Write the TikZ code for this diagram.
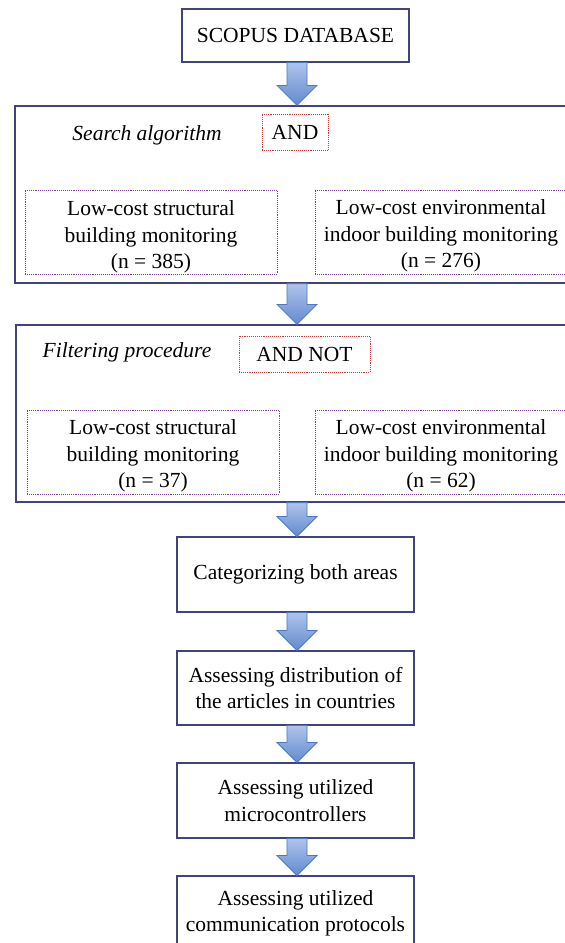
\documentclass[tikz,border=0pt]{standalone}
\usepackage{fontspec}
\setmainfont{Liberation Serif}
\usetikzlibrary{calc}
\definecolor{boxline}{HTML}{43437C}
\definecolor{reddot}{HTML}{C43A3A}
\definecolor{purpdot}{HTML}{7A3E9E}
\definecolor{arrtop}{HTML}{AEC4EB}
\definecolor{arrbot}{HTML}{6389CE}
\definecolor{arredge}{HTML}{4A78C2}
\tikzset{
  txt/.style={font=\fontsize{21.5}{26.5}\selectfont, align=center, inner sep=0pt},
  mainbox/.style={txt, draw=boxline, line width=1.1pt},
  bigbox/.style={draw=boxline, line width=1.2pt, inner sep=0pt},
  opbox/.style={txt, draw=reddot, line width=0.9pt, densely dotted},
  subbox/.style={draw=purpdot, line width=0.9pt, densely dotted, minimum width=252pt, minimum height=84pt, inner sep=0pt},
  flowarrow/.style={top color=arrtop, bottom color=arrbot, draw=arredge, line width=0.8pt, line join=miter},
}
\newcommand{\blockarrow}[2]{%
  \path[flowarrow] let \p1=(#1.south), \p2=(#2.north) in
    (287pt,\y1) -- (307pt,\y1) -- (307pt,\y2+20pt) -- (317pt,\y2+20pt) --
    (297pt,\y2) -- (277pt,\y2+20pt) -- (287pt,\y2+20pt) -- cycle;}
\begin{document}
\begin{tikzpicture}[x=1pt,y=-1pt]
\useasboundingbox (0,0) rectangle (565,943);
\clip (0,0) rectangle (565,943);
\fill[white] (0,0) rectangle (565,943);

% top box
\node[mainbox, minimum width=227pt, minimum height=53pt] (scopus) at (295.5,35.5) {SCOPUS DATABASE};

% search algorithm block
\node[bigbox, minimum width=564pt, minimum height=177pt] (search) at (297,194.5) {};
\node[txt, font=\fontsize{21.5}{26.5}\selectfont\itshape] (searchlbl) at (147,135) {Search algorithm};
\node[opbox, minimum width=66pt, minimum height=36pt] (and) at (295,132) {AND};
\node[subbox] (s1) at (151,232) {};
\node[txt] (s1t) at (151,237) {Low-cost structural\\building monitoring\\(n = 385)};
\node[subbox] (s2) at (441,232) {};
\node[txt] (s2t) at (441,236) {Low-cost environmental\\indoor building monitoring\\(n = 276)};

% filtering block
\node[bigbox, minimum width=563pt, minimum height=177pt] (filter) at (297.5,413.5) {};
\node[txt, font=\fontsize{21.5}{26.5}\selectfont\itshape] (filterlbl) at (127,352) {Filtering procedure};
\node[opbox, minimum width=131pt, minimum height=36pt] (andnot) at (304.5,354) {AND NOT};
\node[subbox] (f1) at (153,452) {};
\node[txt] (f1t) at (153,456) {Low-cost structural\\building monitoring\\(n = 37)};
\node[subbox] (f2) at (441,452) {};
\node[txt] (f2t) at (441,456) {Low-cost environmental\\indoor building monitoring\\(n = 62)};

% lower chain
\node[mainbox, minimum width=237pt, minimum height=75pt] (cat) at (295.5,574.5) {Categorizing both areas};
\node[mainbox, minimum width=237pt, minimum height=74pt] (dist) at (295.5,688) {Assessing distribution of\\the articles in countries};
\node[mainbox, minimum width=237pt, minimum height=75pt] (micro) at (295.5,800.5) {Assessing utilized\\microcontrollers};
\node[mainbox, minimum width=237pt, minimum height=75pt] (comm) at (295.5,913.5) {Assessing utilized\\communication protocols};

% arrows
\blockarrow{scopus}{search}
\blockarrow{search}{filter}
\blockarrow{filter}{cat}
\blockarrow{cat}{dist}
\blockarrow{dist}{micro}
\blockarrow{micro}{comm}
\end{tikzpicture}
\end{document}
